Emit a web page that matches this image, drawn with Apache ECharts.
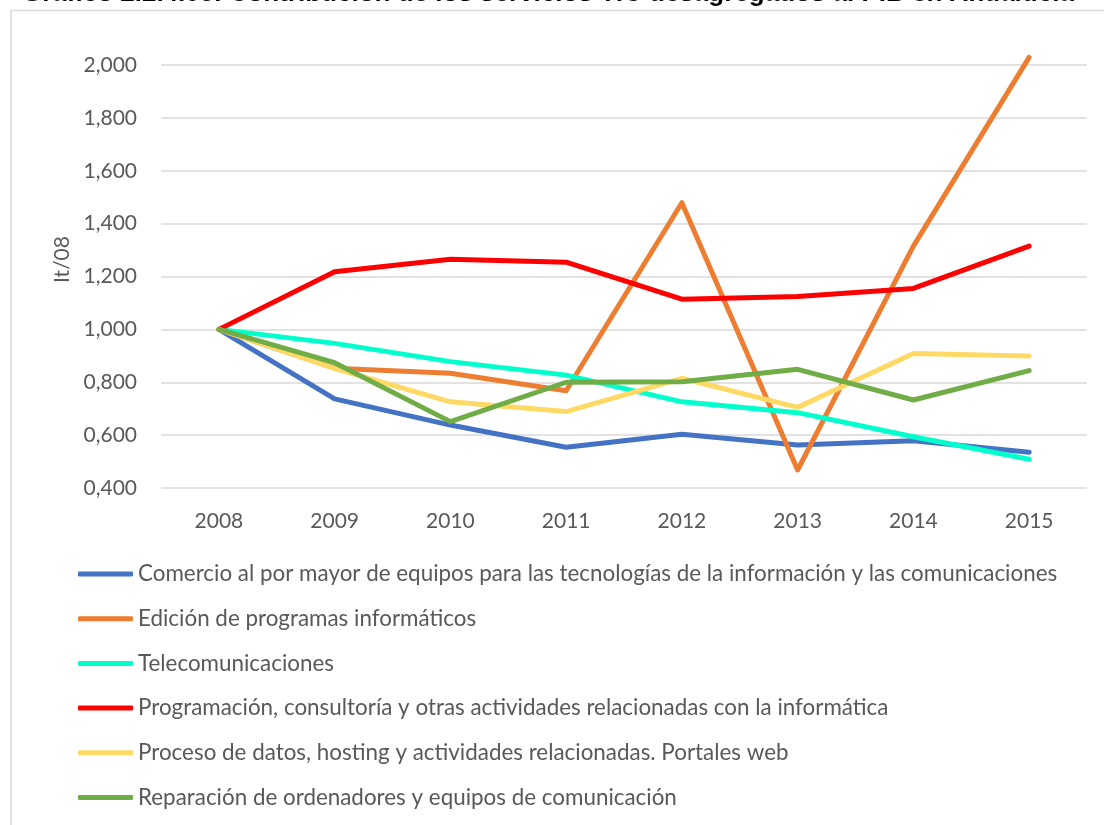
<!DOCTYPE html>
<html>
<head>
<meta charset="utf-8">
<script src="https://cdn.jsdelivr.net/npm/echarts@6/dist/echarts.min.js"></script>
<style>
  html, body { margin: 0; padding: 0; background: #fff; }
  #chart { width: 1104px; height: 825px; }
</style>
</head>
<body>
<div id="chart"></div>
<script>
// datos (índice sobre 2008)
const years = ['2008', '2009', '2010', '2011', '2012', '2013', '2014', '2015']
const comercio = [1.0, 0.737, 0.638, 0.554, 0.603, 0.563, 0.579, 0.535]
const edicion = [1.0, 0.853, 0.834, 0.768, 1.479, 0.468, 1.315, 2.029]
const telecom = [1.0, 0.947, 0.878, 0.827, 0.726, 0.685, 0.594, 0.509]
const programacion = [1.0, 1.218, 1.265, 1.254, 1.114, 1.124, 1.155, 1.315]
const procesoDatos = [1.0, 0.852, 0.726, 0.689, 0.815, 0.705, 0.909, 0.899]
const reparacion = [1.0, 0.874, 0.651, 0.800, 0.802, 0.849, 0.733, 0.844]

const names = [
  'Comercio al por mayor de equipos para las tecnologías de la información y las comunicaciones',
  'Edición de programas informáticos',
  'Telecomunicaciones',
  'Programación, consultoría y otras actividades relacionadas con la informática',
  'Proceso de datos, hosting y actividades relacionadas. Portales web',
  'Reparación de ordenadores y equipos de comunicación'
]
const values = [comercio, edicion, telecom, programacion, procesoDatos, reparacion]
const colors = ['#4472c4', '#ed7d31', '#00ffcc', '#ff0000', '#ffd966', '#70ad47']

const font = 'Lato, "Open Sans", sans-serif'
const chart = echarts.init(document.getElementById('chart'))

const option = {
  animation: false,
  color: colors,
  textStyle: { fontFamily: font },
  graphic: [
    {
      type: 'rect',
      shape: { x: 11, y: 10.5, width: 1200, height: 900 },
      style: { fill: 'none', stroke: '#d9d9d9', lineWidth: 1.5 }
    },
    {
      type: 'text',
      left: 22,
      top: -19,
      style: {
        text: 'Gráfico 2.2.4.05. Contribución de los servicios TIC desagregados al PIB en Andalucía',
        font: 'bold 26px "Liberation Sans", Arial, sans-serif',
        fill: '#000'
      }
    }
  ],
  grid: { left: 161, right: 17, top: 65, bottom: 337 },
  legend: {
    orient: 'vertical',
    left: 78,
    top: 563,
    padding: 0,
    icon: 'roundRect',
    itemWidth: 55,
    itemHeight: 5,
    itemGap: 22.7,
    textStyle: { fontFamily: font, fontSize: 22.4, color: '#595959', lineHeight: 22 },
    data: names
  },
  xAxis: {
    type: 'category',
    data: years,
    axisLine: { show: false },
    axisTick: { show: false },
    axisLabel: { fontFamily: font, fontSize: 21, color: '#595959', margin: 23 }
  },
  yAxis: {
    type: 'value',
    min: 0.4,
    max: 2.0,
    interval: 0.2,
    name: 'It/08',
    nameLocation: 'middle',
    nameGap: 87,
    nameRotate: 90,
    nameTextStyle: { fontFamily: font, fontSize: 21, color: '#595959', padding: [0, 0, 0, 34] },
    axisLine: { show: false },
    axisTick: { show: false },
    splitLine: { lineStyle: { color: '#d9d9d9', width: 1.5 } },
    axisLabel: {
      fontFamily: font,
      fontSize: 21,
      color: '#595959',
      margin: 24,
      formatter: v => v.toFixed(3).replace('.', ',')
    }
  },
  series: names.map((n, i) => ({
    name: n,
    type: 'line',
    data: values[i],
    symbol: 'none',
    clip: false,
    lineStyle: { width: 5, cap: 'round', join: 'round' },
    z: 2 + i
  }))
}
chart.setOption(option)
</script>
</body>
</html>
